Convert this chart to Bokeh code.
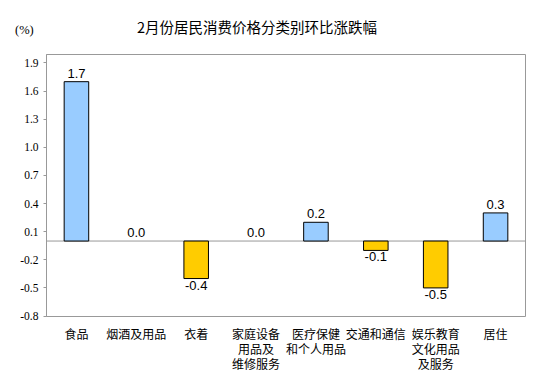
from bokeh.plotting import figure
from bokeh.layouts import column
from bokeh.models import Range1d, FixedTicker, Span, ColumnDataSource, NumeralTickFormatter, Div
from bokeh.core.properties import value
from bokeh.embed import file_html
from bokeh.resources import INLINE

categories = ["食品", "烟酒及用品", "衣着", "家庭设备\n用品及\n维修服务", "医疗保健\n和个人用品",
              "交通和通信", "娱乐教育\n文化用品\n及服务", "居住"]
values = [1.7, 0.0, -0.4, 0.0, 0.2, -0.1, -0.5, 0.3]
y_ticks = [-0.8, -0.5, -0.2, 0.1, 0.4, 0.7, 1.0, 1.3, 1.6, 1.9]
title_text = "2月份居民消费价格分类别环比涨跌幅"
unit_text = "(%)"

n = len(categories)
xs = [i + 0.5 for i in range(n)]
colors = ["#99CCFF" if v >= 0 else "#FFCC00" for v in values]
outlines = ["black" if v != 0 else None for v in values]
labels = ["%.1f" % v for v in values]

W = 548
HEAD = 52

header_html = (
    '<div style="position:relative;width:%dpx;height:%dpx;background:white;">'
    '<span style="position:absolute;left:137px;top:19px;line-height:16px;white-space:nowrap;'
    'font-family:\'Noto Sans CJK SC\';font-size:14.5px;color:black;">%s</span>'
    '<span style="position:absolute;left:15px;top:23px;line-height:14px;white-space:nowrap;'
    'font-family:\'Liberation Serif\';font-size:12.5px;color:black;">%s</span>'
    '</div>' % (W, HEAD, title_text, unit_text)
)
h = Div(text=header_html, width=W, height=HEAD, margin=0)

p = figure(width=W, height=386 - HEAD, output_backend="svg", toolbar_location=None,
           x_range=Range1d(0, n), y_range=Range1d(-0.805, 1.99),
           min_border_left=46, min_border_right=23, min_border_top=2, min_border_bottom=70)
p.background_fill_color = "white"
p.border_fill_color = "white"
p.outline_line_color = "#999999"
p.outline_line_width = 1
p.xgrid.visible = False
p.ygrid.visible = False

zero = Span(location=0, dimension="width", line_color="#999999", line_width=1, level="underlay")
p.add_layout(zero)

src = ColumnDataSource(dict(x=xs, top=values, color=colors, outline=outlines))
p.vbar(x="x", top="top", bottom=0, width=0.41, fill_color="color", line_color="outline",
       line_width=1, source=src)

pos = dict(x=[x for x, v in zip(xs, values) if v >= 0], y=[v for v in values if v >= 0],
           t=[l for l, v in zip(labels, values) if v >= 0])
neg = dict(x=[x for x, v in zip(xs, values) if v < 0], y=[v for v in values if v < 0],
           t=[l for l, v in zip(labels, values) if v < 0])
p.text(x="x", y="y", text="t", source=ColumnDataSource(pos), text_align="center",
       text_baseline="bottom", y_offset=-4, text_font=value("Liberation Sans"),
       text_font_size="13px", text_color="black")
p.text(x="x", y="y", text="t", source=ColumnDataSource(neg), text_align="center",
       text_baseline="top", y_offset=2, text_font=value("Liberation Sans"),
       text_font_size="13px", text_color="black")

p.yaxis.ticker = FixedTicker(ticks=y_ticks)
p.yaxis.formatter = NumeralTickFormatter(format="0.0")
p.yaxis.axis_line_color = "#999999"
p.yaxis.major_tick_line_color = "#999999"
p.yaxis.major_tick_in = 0
p.yaxis.major_tick_out = 3
p.yaxis.minor_tick_line_color = None
p.yaxis.major_label_text_font = "Liberation Serif"
p.yaxis.major_label_text_font_size = "11.5px"
p.yaxis.major_label_text_color = "black"
p.yaxis.major_label_standoff = 5

p.xaxis.ticker = FixedTicker(ticks=xs)
p.xaxis.major_label_overrides = {x: c for x, c in zip(xs, categories)}
p.xaxis.axis_line_color = None
p.xaxis.major_tick_line_color = None
p.xaxis.minor_tick_line_color = None
p.xaxis.major_label_text_font = "Noto Sans CJK SC"
p.xaxis.major_label_text_font_size = "12px"
p.xaxis.major_label_text_color = "black"
p.xaxis.major_label_text_line_height = 0.9
p.xaxis.major_label_standoff = 2

layout = column(h, p, spacing=0)
open("out.html", "w").write(file_html(layout, INLINE))
